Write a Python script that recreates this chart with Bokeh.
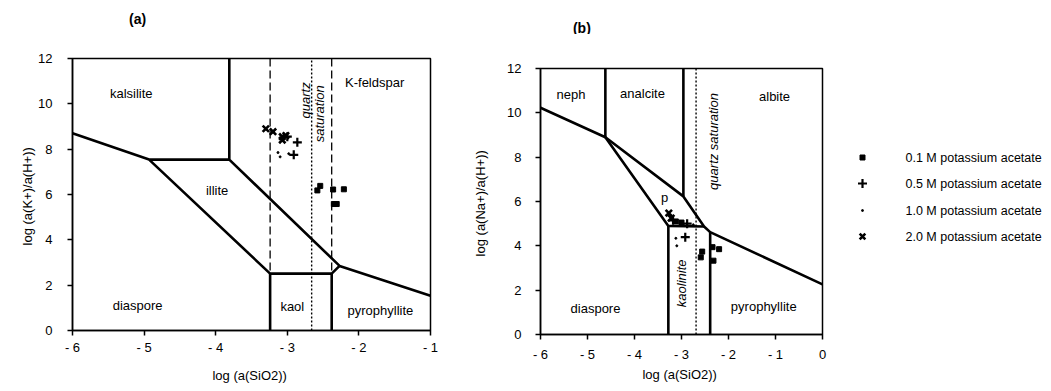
from bokeh.plotting import figure
from bokeh.layouts import row, column
from bokeh.models import Range1d
from bokeh.core.properties import value
from bokeh.embed import file_html
from bokeh.resources import INLINE
import math

FONT = "Liberation Sans"

# ---------------- panel (a) data ----------------
a_bound_x = [[-6, -4.93], [-4.93, -3.81], [-3.81, -3.81, -2.27, -1.0],
             [-4.93, -3.24, -2.38, -2.27], [-3.24, -3.24], [-2.38, -2.38]]
a_bound_y = [[8.7, 7.54], [7.54, 7.54], [12, 7.54, 2.85, 1.53],
             [7.54, 2.51, 2.51, 2.85], [0, 2.51], [0, 2.51]]
a_dash_x = [-3.24, -2.38]
a_dot_x = [-2.66]
a_lab_text = ["kalsilite", "K-feldspar", "illite", "diaspore", "kaol", "pyrophyllite"]
a_lab_x = [-5.18, -1.78, -3.98, -5.09, -2.93, -1.7]
a_lab_y = [10.47, 10.95, 6.18, 1.1, 1.06, 0.88]
a_rot_text = ["quartz", "saturation"]
a_rot_x = [-2.75, -2.55]
a_rot_y = [10.15, 9.56]
a_m01_x = [-2.58, -2.54, -2.36, -2.21, -2.35, -2.31]
a_m01_y = [6.18, 6.38, 6.22, 6.23, 5.58, 5.58]
a_m05_x = [-3.0, -2.86, -2.91]
a_m05_y = [8.55, 8.3, 7.75]
a_m10_x = [-3.13, -3.10, -2.98]
a_m10_y = [7.85, 7.66, 7.8]
a_m20_x = [-3.30, -3.20, -3.07, -3.02, -3.07]
a_m20_y = [8.9, 8.77, 8.55, 8.6, 8.4]

# ---------------- panel (b) data ----------------
b_bound_x = [[-6, -4.62, -2.96, -2.52, -2.39, 0], [-4.62, -4.62], [-2.96, -2.96],
             [-4.62, -3.28, -2.52], [-3.28, -3.28], [-2.39, -2.39]]
b_bound_y = [[10.23, 8.9, 6.23, 4.87, 4.62, 2.26], [12, 8.9], [12, 6.23],
             [8.9, 4.9, 4.87], [0, 4.9], [0, 4.62]]
b_dot_x = [-2.69]
b_lab_text = ["neph", "analcite", "albite", "p", "diaspore", "pyrophyllite"]
b_lab_x = [-5.35, -3.83, -1.02, -3.36, -4.83, -1.25]
b_lab_y = [10.83, 10.87, 10.75, 6.2, 1.18, 1.25]
b_rot_text = ["quartz  saturation", "kaolinite"]
b_rot_x = [-2.32, -3.01]
b_rot_y = [8.79, 2.31]
b_m01_x = [-2.56, -2.59, -2.34, -2.2, -2.32, -3.12, -3.0]
b_m01_y = [3.74, 3.48, 3.94, 3.85, 3.33, 5.1, 5.05]
b_m05_x = [-3.18, -2.88, -2.92]
b_m05_y = [5.15, 5.0, 4.39]
b_m10_x = [-3.12, -3.1, -2.75]
b_m10_y = [4.34, 4.0, 4.95]
b_m20_x = [-3.27, -3.22]
b_m20_y = [5.48, 5.25]

x_ticks_a = [-6, -5, -4, -3, -2, -1]
x_ticks_b = [-6, -5, -4, -3, -2, -1, 0]
y_ticks = [0, 2, 4, 6, 8, 10, 12]
panel_titles = ["(a)", "(b)"]
legend_labels = ["0.1 M potassium acetate", "0.5 M potassium acetate",
                 "1.0 M potassium acetate", "2.0 M potassium acetate"]


def tick_label(v):
    return "- %d" % abs(v) if v < 0 else "%d" % v


def style(p, xt, ylabel):
    p.xgrid.visible = False
    p.ygrid.visible = False
    p.outline_line_color = "black"
    p.outline_line_width = 1.5
    p.xaxis.ticker = xt
    p.xaxis.ticker.num_minor_ticks = 2
    p.yaxis.ticker = y_ticks
    p.yaxis.ticker.num_minor_ticks = 2
    p.xaxis.major_label_overrides = {v: tick_label(v) for v in xt}
    for ax in (p.xaxis[0], p.yaxis[0]):
        ax.axis_line_width = 1.5
        ax.major_tick_in = 0
        ax.major_tick_out = 5
        ax.minor_tick_in = 0
        ax.minor_tick_out = 3
        ax.major_tick_line_width = 1.5
        ax.minor_tick_line_width = 1.2
        ax.major_label_text_font = FONT
        ax.major_label_text_font_size = "13px"
        ax.major_label_text_color = "black"
        ax.axis_label_text_font = FONT
        ax.axis_label_text_font_size = "13px"
        ax.axis_label_text_font_style = "normal"
        ax.axis_label_text_color = "black"
    p.xaxis.axis_label = "log  (a(SiO2))"
    p.yaxis.axis_label = ylabel
    p.yaxis.major_label_orientation = "horizontal"


def bare(p):
    p.axis.visible = False
    p.xgrid.visible = False
    p.ygrid.visible = False
    p.outline_line_color = None


def draw_markers(p, d01, d05, d10, d20):
    p.scatter(d01[0], d01[1], marker="square", size=5, color="black")
    p.scatter(d05[0], d05[1], marker="cross", size=9, line_color="black", line_width=2.2)
    p.scatter(d10[0], d10[1], marker="circle", size=2, color="black")
    p.scatter(d20[0], d20[1], marker="x", size=9, line_color="black", line_width=2.6)


def draw_texts(p, tx, x, y, rtx, rx, ry):
    p.text(x=x, y=y, text=tx, text_font=value(FONT), text_font_size="13px",
           text_align="center", text_baseline="middle", text_color="black")
    p.text(x=rx, y=ry, text=rtx, text_font=value(FONT), text_font_size="13px",
           text_font_style="italic", angle=math.pi / 2,
           text_align="center", text_baseline="middle", text_color="black")


def title_fig(width, xr, bl, br, txt, tx, ty):
    t = figure(width=width, height=34, x_range=xr, y_range=Range1d(34, 0),
               output_backend="svg", toolbar_location=None,
               min_border_left=bl, min_border_right=br, min_border_top=0, min_border_bottom=0)
    bare(t)
    t.text(x=[tx], y=[ty], text=[txt], text_font=value(FONT), text_font_size="14px",
           text_font_style="bold", text_align="center", text_baseline="middle",
           text_color="black")
    return t


# ---------------- figure (a) ----------------
xr_a = Range1d(-6, -1)
ta = title_fig(470, xr_a, 72, 40, panel_titles[0], -5.09, 18)
pa = figure(width=470, height=351, x_range=xr_a, y_range=Range1d(0, 12),
            output_backend="svg", toolbar_location=None,
            min_border_left=72, min_border_right=40, min_border_top=24, min_border_bottom=55)
style(pa, x_ticks_a, "log  (a(K+)/a(H+))")
pa.yaxis.major_label_standoff = 15
pa.yaxis.axis_label_standoff = 0
pa.xaxis.major_label_standoff = 4
pa.xaxis.axis_label_standoff = 10
pa.multi_line(a_bound_x, a_bound_y, line_color="black", line_width=2.6)
for xv in a_dash_x:
    pa.line([xv, xv], [0, 12], line_color="black", line_width=1.3, line_dash="8 4")
for xv in a_dot_x:
    pa.line([xv, xv], [0, 12], line_color="black", line_width=1.4, line_dash="2 2")
draw_texts(pa, a_lab_text, a_lab_x, a_lab_y, a_rot_text, a_rot_x, a_rot_y)
draw_markers(pa, (a_m01_x, a_m01_y), (a_m05_x, a_m05_y), (a_m10_x, a_m10_y), (a_m20_x, a_m20_y))

# ---------------- figure (b) ----------------
xr_b = Range1d(-6, 0)
tb = title_fig(378, xr_b, 66, 26, panel_titles[1], -5.12, 27)
pb = figure(width=378, height=351, x_range=xr_b, y_range=Range1d(0, 12),
            output_backend="svg", toolbar_location=None,
            min_border_left=66, min_border_right=26, min_border_top=34, min_border_bottom=51)
style(pb, x_ticks_b, "log  (a(Na+)/a(H+))")
pb.yaxis.major_label_standoff = 14
pb.yaxis.axis_label_standoff = 16
pb.xaxis.major_label_standoff = 7
pb.xaxis.axis_label_standoff = 2
pb.multi_line(b_bound_x, b_bound_y, line_color="black", line_width=2.6)
for xv in b_dot_x:
    pb.line([xv, xv], [0, 12], line_color="black", line_width=1.4, line_dash="2 2")
draw_texts(pb, b_lab_text, b_lab_x, b_lab_y, b_rot_text, b_rot_x, b_rot_y)
draw_markers(pb, (b_m01_x, b_m01_y), (b_m05_x, b_m05_y), (b_m10_x, b_m10_y), (b_m20_x, b_m20_y))

# ---------------- legend figure ----------------
pl = figure(width=195, height=385, x_range=Range1d(0, 195), y_range=Range1d(385, 0),
            output_backend="svg", toolbar_location=None,
            min_border_left=0, min_border_right=0, min_border_top=0, min_border_bottom=0)
bare(pl)
leg_y = [157, 183, 210, 236]
pl.scatter([14], [leg_y[0]], marker="square", size=5, color="black")
pl.scatter([14], [leg_y[1]], marker="cross", size=9, line_color="black", line_width=2.2)
pl.scatter([14], [leg_y[2]], marker="circle", size=2, color="black")
pl.scatter([14], [leg_y[3]], marker="x", size=8, line_color="black", line_width=2.6)
pl.text(x=[57] * 4, y=leg_y, text=legend_labels, text_font=value(FONT),
        text_font_size="12.5px", text_align="left", text_baseline="middle", text_color="black")

layout = row(column(ta, pa, spacing=0), column(tb, pb, spacing=0), column(pl), spacing=0)
open("out.html", "w").write(file_html(layout, INLINE))
